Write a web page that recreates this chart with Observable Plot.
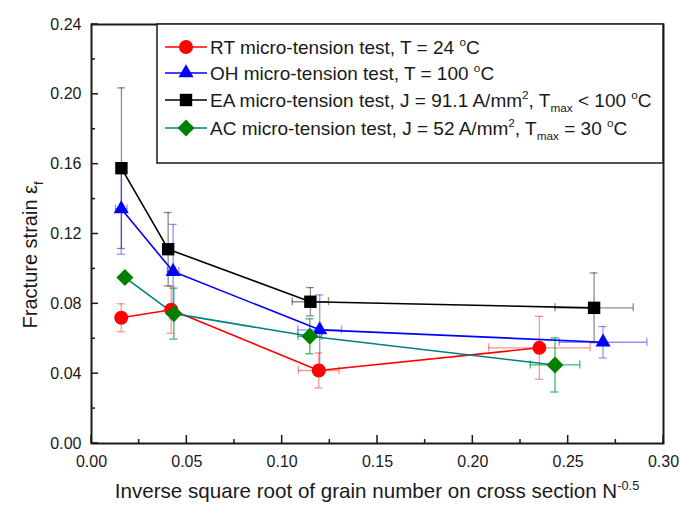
<!DOCTYPE html>
<html><head><meta charset="utf-8">
<script src="https://cdn.jsdelivr.net/npm/d3@7"></script>
<script src="https://cdn.jsdelivr.net/npm/@observablehq/plot@0.6"></script>
<style>
body{margin:0;background:#fff;font-family:"Liberation Sans",Arial,sans-serif;}
#chart{position:relative;width:680px;height:507px;}
</style></head><body><div id="chart"></div>
<script>
// ---- data ----
const rtX    = [0.0156, 0.0418, 0.1192, 0.2349];
const rtY    = [0.0720, 0.0766, 0.0418, 0.0548];
const rtYErr = [0.0080, 0.0135, 0.0100, 0.0180];
const rtXErr = [0, 0, 0.0107, 0.0266];

const ohX    = [0.0156, 0.0428, 0.1197, 0.2683];
const ohY    = [0.1344, 0.0985, 0.0651, 0.0580];
const ohYErr = [0.0260, 0.0270, 0.0200, 0.0090];
const ohXErr = [0.0030, 0.0030, 0.0115, 0.0230];

const eaX    = [0.0157, 0.0402, 0.1148, 0.2636];
const eaY    = [0.1577, 0.1113, 0.0812, 0.0777];
const eaYErr = [0.0460, 0.0210, 0.0081, 0.0200];
const eaXErr = [0, 0, 0.0095, 0.0205];

const acX    = [0.0175, 0.0432, 0.1145, 0.2431];
const acY    = [0.0951, 0.0744, 0.0614, 0.0450];
const acYErr = [0, 0.0146, 0.0100, 0.0155];
const acXErr = [0, 0, 0.0062, 0.0130];

const xDomain = [0, 0.30];
const yDomain = [0, 0.24];
const xMajorTicks = [0, 0.05, 0.10, 0.15, 0.20, 0.25, 0.30];
const xMinorTicks = [0.025, 0.075, 0.125, 0.175, 0.225, 0.275];
const yMajorTicks = [0, 0.04, 0.08, 0.12, 0.16, 0.20, 0.24];
const yMinorTicks = [0.02, 0.06, 0.10, 0.14, 0.18, 0.22];

const series = [
  {key:"RT", x:rtX, y:rtY, ey:rtYErr, ex:rtXErr, line:"#ff0000", fill:"#ff0000", err:"rgba(255,60,60,0.55)", symbol:"circle", r:7, rotate:0,
   label:[["RT micro-tension test, T = 24 "],["o","sup"],["C"]]},
  {key:"OH", x:ohX, y:ohY, ey:ohYErr, ex:ohXErr, line:"#0000ff", fill:"#0000ff", err:"rgba(40,40,255,0.5)", symbol:"triangle", r:5.6, rotate:0,
   label:[["OH micro-tension test, T = 100 "],["o","sup"],["C"]]},
  {key:"EA", x:eaX, y:eaY, ey:eaYErr, ex:eaXErr, line:"#000000", fill:"#000000", err:"rgba(0,0,0,0.45)", symbol:"square", r:7, rotate:0,
   label:[["EA micro-tension test, J = 91.1 A/mm"],["2","sup"],[", T"],["max","sub"],[" < 100 "],["o","sup"],["C"]]},
  {key:"AC", x:acX, y:acY, ey:acYErr, ex:acXErr, line:"#008080", fill:"#008000", err:"rgba(0,160,60,0.75)", symbol:"square", r:6.8, rotate:45,
   label:[["AC micro-tension test, J = 52 A/mm"],["2","sup"],[", T"],["max","sub"],[" = 30 "],["o","sup"],["C"]]}
];

const axisColor = "#1a1a1a";

const marks = [];
for (const s of series) {
  const d = s.x.map((x,i)=>({x, y:s.y[i], ey:s.ey[i], ex:s.ex[i]}));
  const dy = d.filter(r=>r.ey>0), dx = d.filter(r=>r.ex>0);
  const eo = {stroke:s.err, strokeWidth:1.3};
  marks.push(
    Plot.ruleX(dy,{x:"x", y1:r=>r.y-r.ey, y2:r=>r.y+r.ey, ...eo}),
    Plot.ruleY(dy,{y:r=>r.y+r.ey, x1:"x", x2:"x", insetLeft:-4, insetRight:-4, ...eo}),
    Plot.ruleY(dy,{y:r=>r.y-r.ey, x1:"x", x2:"x", insetLeft:-4, insetRight:-4, ...eo}),
    Plot.ruleY(dx,{y:"y", x1:r=>r.x-r.ex, x2:r=>r.x+r.ex, ...eo}),
    Plot.ruleX(dx,{x:r=>r.x-r.ex, y1:"y", y2:"y", insetTop:-4, insetBottom:-4, ...eo}),
    Plot.ruleX(dx,{x:r=>r.x+r.ex, y1:"y", y2:"y", insetTop:-4, insetBottom:-4, ...eo})
  );
}
for (const s of series) {
  const d = s.x.map((x,i)=>({x, y:s.y[i]}));
  marks.push(Plot.line(d,{x:"x", y:"y", stroke:s.line, strokeWidth:1.6}));
}
for (const s of series) {
  const d = s.x.map((x,i)=>({x, y:s.y[i]}));
  marks.push(Plot.dot(d,{x:"x", y:"y", symbol:s.symbol, r:s.r, fill:s.fill, stroke:"none", rotate:s.rotate}));
}

const plot = Plot.plot({
  width:680, height:507,
  marginTop:24, marginLeft:91, marginRight:17, marginBottom:64,
  style:{fontFamily:'"Liberation Sans", Arial, sans-serif', background:"#fff", color:axisColor},
  x:{domain:xDomain, label:null},
  y:{domain:yDomain, label:null},
  marks:[
    ...marks,
    Plot.axisX(xMajorTicks,{tickSize:0, tickPadding:12, tickFormat:d3.format(".2f"), fontSize:16, label:null}),
    Plot.axisY(yMajorTicks,{tickSize:0, tickPadding:10, tickFormat:d3.format(".2f"), fontSize:16, label:null}),
    Plot.frame({stroke:axisColor, strokeWidth:2})
  ]
});
document.getElementById("chart").appendChild(plot);

const svg = d3.select(plot);
const font = '"Liberation Sans", Arial, sans-serif';

// inward ticks, positioned through Plot's own scales
const xs = plot.scale("x"), ys = plot.scale("y");
const x0 = xs.apply(xDomain[0]), y0 = ys.apply(yDomain[0]);
const tg = svg.append("g").attr("stroke",axisColor).attr("stroke-width",1.5);
const addXT = (ticks, len) => ticks.forEach(v => tg.append("line")
  .attr("x1",xs.apply(v)).attr("x2",xs.apply(v)).attr("y1",y0).attr("y2",y0-len));
const addYT = (ticks, len) => ticks.forEach(v => tg.append("line")
  .attr("y1",ys.apply(v)).attr("y2",ys.apply(v)).attr("x1",x0).attr("x2",x0+len));
addXT(xMajorTicks, 8); addXT(xMinorTicks, 4);
addYT(yMajorTicks, 7); addYT(yMinorTicks, 4);

// rich text helper
function richText(sel, parts, size){
  let shift = 0;
  for (const [t, type] of parts){
    const target = type==="sup" ? -0.4*size : type==="sub" ? 0.28*size : 0;
    const sp = sel.append("tspan").attr("dy", target - shift).text(t);
    if (type) sp.attr("font-size", size*0.62);
    shift = target;
  }
}

// x title
const xt = svg.append("text").attr("x",377).attr("y",498).attr("text-anchor","middle")
  .attr("font-size",20.6).attr("font-family",font).attr("fill",axisColor);
richText(xt, [["Inverse square root of grain number on cross section N"],["-0.5","sup"]], 20.6);

// y title
const yt = svg.append("text").attr("transform","translate(37,255) rotate(-90)").attr("text-anchor","middle")
  .attr("font-size",20).attr("font-family",font).attr("fill",axisColor);
richText(yt, [["Fracture strain \u03b5"],["f","sub"]], 20);

// legend
const lg = svg.append("g").attr("text-anchor","start");
lg.append("rect").attr("x",157).attr("y",24).attr("width",506).attr("height",139)
  .attr("fill","#fff").attr("stroke",axisColor).attr("stroke-width",1.5);
const rowsY = [47, 73, 100, 128];
series.forEach((s,i)=>{
  const y = rowsY[i];
  lg.append("line").attr("x1",165).attr("x2",207).attr("y1",y).attr("y2",y).attr("stroke",s.line).attr("stroke-width",1.6);
  lg.append("path").attr("d", d3.symbol(s.symbol==="circle"?d3.symbolCircle:s.symbol==="triangle"?d3.symbolTriangle:d3.symbolSquare, Math.PI*s.r*s.r)())
    .attr("transform",`translate(186,${y}) rotate(${s.rotate})`).attr("fill",s.fill);
  const t = lg.append("text").attr("x",210).attr("y",y+7).attr("text-anchor","start").attr("font-size",19).attr("font-family",font).attr("fill",axisColor);
  richText(t, s.label, 19);
});
</script></body></html>
